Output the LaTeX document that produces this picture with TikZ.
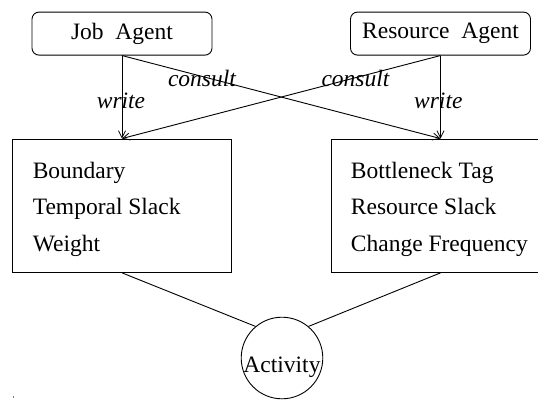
\documentclass[tikz,border=0pt]{standalone}
\usepackage{fontspec}
\setmainfont{Liberation Serif}
\usetikzlibrary{arrows.meta}
\begin{document}
\begin{tikzpicture}[x=1pt,y=-1pt,
  every node/.style={font=\fontsize{23.5}{28}\selectfont},
  agentbox/.style={draw, rounded corners=7pt, minimum width=180pt, minimum height=43pt, inner sep=0pt, line width=0.9pt},
  infobox/.style={draw, minimum width=219pt, minimum height=133.4pt, inner sep=0pt, line width=0.9pt},
  infotext/.style={anchor=base west, inner sep=0pt},
  rel/.style={anchor=base, inner sep=0pt, font=\fontsize{23.5}{28}\selectfont\itshape},
  conn/.style={line width=0.9pt},
  arr/.style={conn, -{Straight Barb[length=7pt,width=7pt,line width=0.8pt]}}
]
\useasboundingbox (0,0) rectangle (538,400);
% agents
\node[agentbox] (job) at (122,33.6) {Job\ \ Agent};
\node[agentbox] (res) at (440.5,33.6) {Resource\ \ Agent};
% boxes
\node[infobox] (lbox) at (122,205.7) {};
\node[infobox] (rbox) at (440.5,205.7) {};
\node[infotext] (l1) at (32.6,178) {Boundary};
\node[infotext] (l2) at (32.6,214.5) {Temporal Slack};
\node[infotext] (l3) at (32.6,251) {Weight};
\node[infotext] (r1) at (350.7,178) {Bottleneck Tag};
\node[infotext] (r2) at (350.7,214.5) {Resource Slack};
\node[infotext] (r3) at (350.7,251) {Change Frequency};
% activity
\node[draw, circle, minimum size=81.6pt, inner sep=0pt, line width=0.9pt] (act) at (282,358) {};
\node[anchor=base, inner sep=0pt] (actlabel) at (282,372) {Activity};
% arrows
\draw[arr] (job.south) -- (lbox.north);
\draw[arr] (res.south) -- (rbox.north);
\draw[arr] (job.south) -- (rbox.north);
\draw[arr] (res.south) -- (lbox.north);
% labels
\node[rel] (w1) at (121,108) {write};
\node[rel] (w2) at (438.3,108) {write};
\node[rel] (c1) at (202,86) {consult};
\node[rel] (c2) at (355.5,86) {consult};
% lines to activity
\draw[conn] (lbox.south) -- (act.130);
\draw[conn] (rbox.south) -- (act.50);
% tiny mark
\fill[gray] (12.8,395.7) rectangle (13.8,397.7);
\end{tikzpicture}
\end{document}
